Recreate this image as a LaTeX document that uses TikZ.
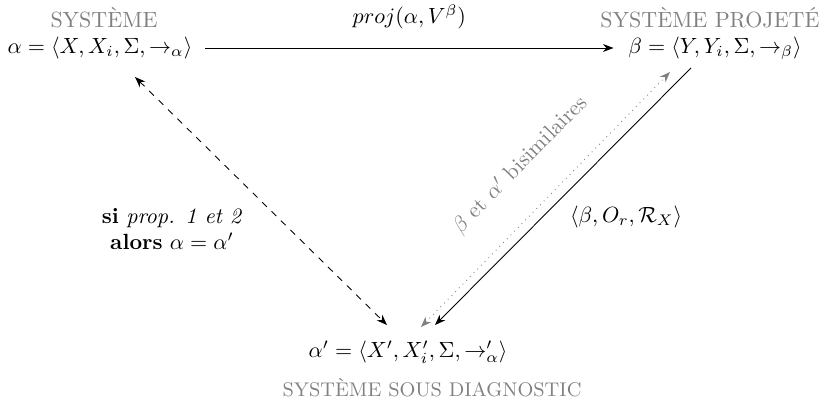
\documentclass[tikz,border=0pt]{standalone}
\usepackage{amsmath}
\usepackage{fontspec}
\usetikzlibrary{arrows.meta}

\begin{document}
\begin{tikzpicture}[
    >=Stealth,
    x=0.4545pt, y=-0.4545pt, % unites en pixels
    titre/.style={text=gray, inner sep=1pt},
    systeme/.style={inner sep=2pt}
]
\useasboundingbox (0,0) rectangle (826,401);

% ========== les trois systemes ==========
\node[systeme] (alpha) at (100,48) {$\alpha = \langle X, X_i, \Sigma, \rightarrow_{\alpha} \rangle$};
\node[systeme] (beta) at (715,48) {$\beta = \langle Y, Y_i, \Sigma, \rightarrow_{\beta} \rangle$};
\node[systeme] (alphap) at (408,352) {$\alpha' = \langle X', X'_i, \Sigma, \rightarrow'_{\alpha} \rangle$};

% titres
\node[titre] (tSys) at (104,18) {SYSTÈME};
\node[titre] (tProj) at (710,18) {SYSTÈME PROJETÉ};
\node[titre, font=\small] (tDiag) at (432,388) {SYSTÈME SOUS DIAGNOSTIC};

% ========== fleches ==========
% projection
\draw[->] ([shift={(8,0)}]alpha.east) -- ([shift={(-10,0)}]beta.west)
    node[midway, above=5pt] {$proj(\alpha, V^{\beta})$};

% construction de alpha'
\draw[->] ([shift={(-24,20)}]beta.center) -- ([shift={(27,-27)}]alphap.center)
    node[pos=0.58, right=9pt] {$\langle \beta, O_r, \mathcal{R}_X \rangle$};

% bisimulation
\draw[<->, dotted, gray] ([shift={(13,-25)}]alphap.center) -- ([shift={(-45,24)}]beta.center)
    node[pos=0.52, sloped, above=11pt] {$\beta$ et $\alpha'$ bisimilaires};

% egalite
\draw[<->, dashed] ([shift={(35,29)}]alpha.center) -- ([shift={(-21,-27)}]alphap.center);
\node[align=center] (cond) at (172,229) {\textbf{si} \textit{prop. 1 et 2}\\\textbf{alors} $\alpha = \alpha'$};

\end{tikzpicture}
\end{document}
